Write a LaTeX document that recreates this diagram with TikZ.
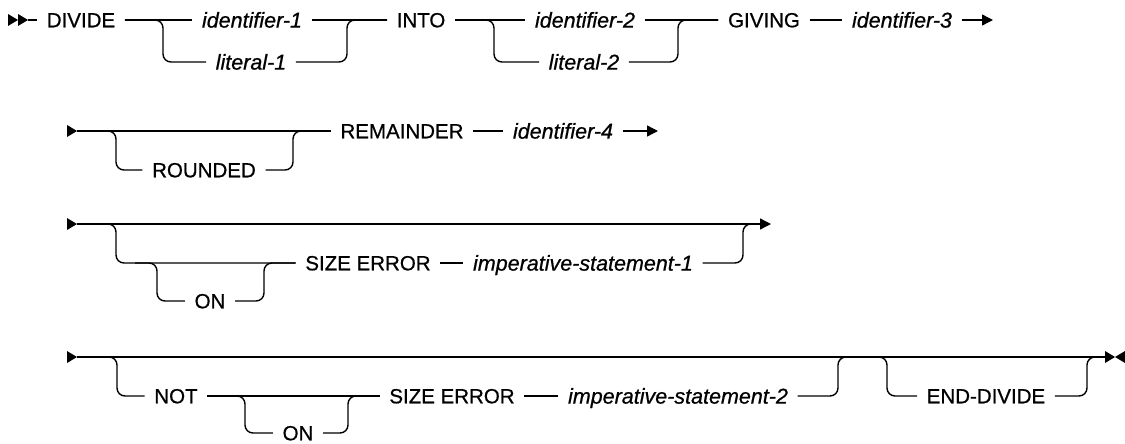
\documentclass[tikz,border=0pt]{standalone}
\usepackage{fontspec}
\usetikzlibrary{arrows.meta}
\newfontfamily\railfont[FakeBold=0.7]{Liberation Sans}
\newcommand\kwf{\railfont\fontsize{20.5}{24}\selectfont}
\newcommand\idf{\railfont\itshape\fontsize{21.5}{26}\selectfont}
\tikzset{
  kw/.style={font=\kwf, inner xsep=9pt, inner ysep=0pt, text height=14.6pt, text depth=0pt},
  ident/.style={kw, font=\idf, text height=15.2pt},
  rr/.style={rounded corners=8pt},
  arr/.style={-{Triangle[length=11pt,width=11pt]}},
  tri/.pic={\fill (-10,-6) -- (0,0) -- (-10,6) -- cycle;}
}
\begin{document}
\begin{tikzpicture}[x=1pt,y=-1pt,line width=1.4pt]
\useasboundingbox (0,0) rectangle (1125,444);
% ---------- row 1 ----------
\coordinate (s1) at (28,20);
\pic at (18,20) {tri};
\pic at (28,20) {tri};
\node[kw] (divide) at (81,20) {DIVIDE};
\node[ident] (id1) at (252,20) {identifier-1};
\node[ident] (lit1) at (251,62) {literal-1};
\node[kw] (into) at (421,20) {INTO};
\node[ident] (id2) at (585,20) {identifier-2};
\node[ident] (lit2) at (584,62) {literal-2};
\node[kw] (giving) at (764,20) {GIVING};
\node[ident] (id3) at (902,20) {identifier-3};
\coordinate (b11) at (163,62);
\coordinate (b12) at (347,20);
\coordinate (b21) at (494,62);
\coordinate (b22) at (678,20);
\coordinate (e1) at (993,20);
\draw (s1) -- (divide.west);
\draw (divide.east) -- (id1.west);
\draw[rr] (divide.east) -| (b11) -- (lit1.west);
\draw (id1.east) -- (into.west);
\draw[rr] (lit1.east) -| (b12) -- (into.west);
\draw (into.east) -- (id2.west);
\draw[rr] (into.east) -| (b21) -- (lit2.west);
\draw (id2.east) -- (giving.west);
\draw[rr] (lit2.east) -| (b22) -- (giving.west);
\draw (giving.east) -- (id3.west);
\draw[arr] (id3.east) -- (e1);
% ---------- row 2 ----------
\coordinate (s2) at (77,131);
\pic at (77,131) {tri};
\node[kw] (rounded) at (204,170) {ROUNDED};
\node[kw] (remainder) at (402,131) {REMAINDER};
\node[ident] (id4) at (563,131) {identifier-4};
\coordinate (r1) at (116,170);
\coordinate (r2) at (293,131);
\coordinate (e2) at (658,131);
\draw (s2) -- (remainder.west);
\draw[rr] (s2) -| (r1) -- (rounded.west);
\draw[rr] (rounded.east) -| (r2) -- (remainder.west);
\draw (remainder.east) -- (id4.west);
\draw[arr] (id4.east) -- (e2);
% ---------- row 3 ----------
\coordinate (s3) at (77,224);
\pic at (77,224) {tri};
\node[kw] (on1) at (210,301) {ON};
\node[kw] (size1) at (368,263) {SIZE ERROR};
\node[ident] (imp1) at (583,263) {imperative-statement-1};
\coordinate (c1) at (116,263);
\coordinate (k1) at (135,263);
\coordinate (c2) at (157,301);
\coordinate (c3) at (264,263);
\coordinate (c4) at (743,224);
\coordinate (m1) at (756,224);
\coordinate (e3) at (771,224);
\draw[arr] (s3) -- (e3);
\draw[rr] (s3) -| (c1) -- (size1.west);
\draw[rr] (k1) -| (c2) -- (on1.west);
\draw[rr] (on1.east) -| (c3) -- (size1.west);
\draw (size1.east) -- (imp1.west);
\draw[rr] (imp1.east) -| (c4) -- (m1);
% ---------- row 4 ----------
\coordinate (s4) at (77,357);
\pic at (77,357) {tri};
\node[kw] (not) at (176,396) {NOT};
\node[kw] (on2) at (298,433) {ON};
\node[kw] (size2) at (452,396) {SIZE ERROR};
\node[ident] (imp2) at (678,396) {imperative-statement-2};
\node[kw] (enddiv) at (986,396) {END-DIVIDE};
\coordinate (d1) at (117,396);
\coordinate (d2) at (245,433);
\coordinate (d3) at (348,396);
\coordinate (d4) at (838,357);
\coordinate (m2) at (850,357);
\coordinate (k2) at (872,357);
\coordinate (d5) at (887,396);
\coordinate (d6) at (1087,357);
\coordinate (m3) at (1099,357);
\coordinate (fin) at (1105,357);
\draw (s4) -- (fin);
\draw[rr] (s4) -| (d1) -- (not.west);
\draw (not.east) -- (size2.west);
\draw[rr] (not.east) -| (d2) -- (on2.west);
\draw[rr] (on2.east) -| (d3) -- (size2.west);
\draw (size2.east) -- (imp2.west);
\draw[rr] (imp2.east) -| (d4) -- (m2);
\draw[rr] (k2) -| (d5) -- (enddiv.west);
\draw[rr] (enddiv.east) -| (d6) -- (m3);
\pic at (1115,357) {tri};
\pic[xscale=-1] at (1115,357) {tri};
\end{tikzpicture}
\end{document}
